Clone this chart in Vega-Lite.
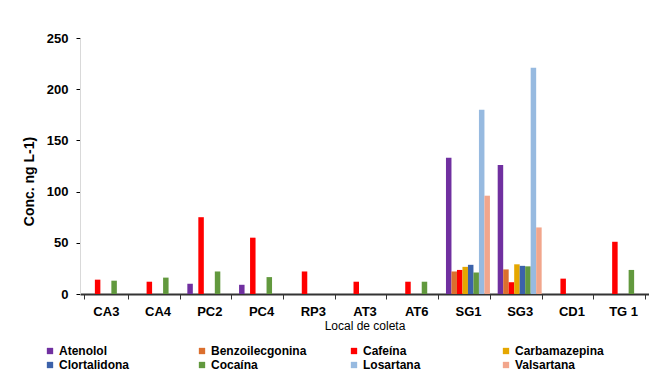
{
  "$schema": "https://vega.github.io/schema/vega-lite/v6.json",
  "width": 569,
  "height": 256,
  "autosize": {"type": "none"},
  "padding": {"left": 80, "top": 38, "right": 0, "bottom": 79},
  "background": "white",
  "config": {"view": {"stroke": null}, "font": "Liberation Sans"},
  "data": {
    "values": [
      {"local": "CA3", "composto": "Cafeína", "conc": 14},
      {"local": "CA3", "composto": "Cocaína", "conc": 13},
      {"local": "CA4", "composto": "Cafeína", "conc": 12},
      {"local": "CA4", "composto": "Cocaína", "conc": 16},
      {"local": "PC2", "composto": "Atenolol", "conc": 10},
      {"local": "PC2", "composto": "Cafeína", "conc": 75},
      {"local": "PC2", "composto": "Cocaína", "conc": 22},
      {"local": "PC4", "composto": "Atenolol", "conc": 9},
      {"local": "PC4", "composto": "Cafeína", "conc": 55},
      {"local": "PC4", "composto": "Cocaína", "conc": 16.5},
      {"local": "RP3", "composto": "Cafeína", "conc": 22},
      {"local": "AT3", "composto": "Cafeína", "conc": 12},
      {"local": "AT6", "composto": "Cafeína", "conc": 12},
      {"local": "AT6", "composto": "Cocaína", "conc": 12},
      {"local": "SG1", "composto": "Atenolol", "conc": 133},
      {"local": "SG1", "composto": "Benzoilecgonina", "conc": 22},
      {"local": "SG1", "composto": "Cafeína", "conc": 23.5},
      {"local": "SG1", "composto": "Carbamazepina", "conc": 26.5},
      {"local": "SG1", "composto": "Clortalidona", "conc": 28.5},
      {"local": "SG1", "composto": "Cocaína", "conc": 21},
      {"local": "SG1", "composto": "Losartana", "conc": 180},
      {"local": "SG1", "composto": "Valsartana", "conc": 96},
      {"local": "SG3", "composto": "Atenolol", "conc": 126},
      {"local": "SG3", "composto": "Benzoilecgonina", "conc": 24},
      {"local": "SG3", "composto": "Cafeína", "conc": 11.5},
      {"local": "SG3", "composto": "Carbamazepina", "conc": 29},
      {"local": "SG3", "composto": "Clortalidona", "conc": 27.5},
      {"local": "SG3", "composto": "Cocaína", "conc": 27},
      {"local": "SG3", "composto": "Losartana", "conc": 221},
      {"local": "SG3", "composto": "Valsartana", "conc": 65},
      {"local": "CD1", "composto": "Cafeína", "conc": 15},
      {"local": "TG 1", "composto": "Cafeína", "conc": 51},
      {"local": "TG 1", "composto": "Cocaína", "conc": 23.5}
    ]
  },
  "mark": {"type": "bar"},
  "encoding": {
    "x": {
      "field": "local",
      "type": "nominal",
      "sort": ["CA3", "CA4", "PC2", "PC4", "RP3", "AT3", "AT6", "SG1", "SG3", "CD1", "TG 1"],
      "scale": {"paddingInner": 0.15, "paddingOuter": 0.075},
      "axis": {
        "labelAngle": 0,
        "labelFontWeight": "bold",
        "labelFontSize": 13,
        "labelColor": "#000",
        "labelPadding": 6,
        "tickBand": "extent",
        "tickSize": 5,
        "tickColor": "#333",
        "domainColor": "#333",
        "domainWidth": 2,
        "title": "Local de coleta",
        "titleFontWeight": "normal",
        "titleFontSize": 12,
        "titleColor": "#000",
        "titlePadding": 2
      }
    },
    "xOffset": {
      "field": "composto",
      "type": "nominal",
      "scale": {
        "domain": ["Atenolol", "Benzoilecgonina", "Cafeína", "Carbamazepina", "Clortalidona", "Cocaína", "Losartana", "Valsartana"],
        "paddingInner": 0,
        "paddingOuter": 0
      }
    },
    "y": {
      "field": "conc",
      "type": "quantitative",
      "scale": {"domain": [0, 250]},
      "axis": {
        "values": [0, 50, 100, 150, 200, 250],
        "grid": false,
        "labelFontWeight": "bold",
        "labelFontSize": 13,
        "labelColor": "#000",
        "labelPadding": 8,
        "tickSize": 4,
        "tickColor": "#000",
        "domainColor": "#D9D9D9",
        "title": "Conc. ng L-1)",
        "titleFontSize": 14,
        "titleFontWeight": "bold",
        "titleColor": "#000",
        "titleX": -44,
        "titleY": 143
      }
    },
    "color": {
      "field": "composto",
      "type": "nominal",
      "scale": {
        "domain": ["Atenolol", "Benzoilecgonina", "Cafeína", "Carbamazepina", "Clortalidona", "Cocaína", "Losartana", "Valsartana"],
        "range": ["#7030A0", "#DB6F2E", "#FF0000", "#E5A700", "#3C62AA", "#62993E", "#97BAE0", "#F2A68C"]
      },
      "legend": {
        "orient": "none",
        "legendX": -36,
        "legendY": 307,
        "direction": "horizontal",
        "columns": 4,
        "gridAlign": "all",
        "columnPadding": 41,
        "rowPadding": 2,
        "symbolType": "square",
        "symbolSize": 40,
        "symbolStrokeWidth": 0,
        "labelFontSize": 12,
        "labelFontWeight": "bold",
        "labelColor": "#000",
        "labelOffset": 3,
        "title": null
      }
    }
  }
}
